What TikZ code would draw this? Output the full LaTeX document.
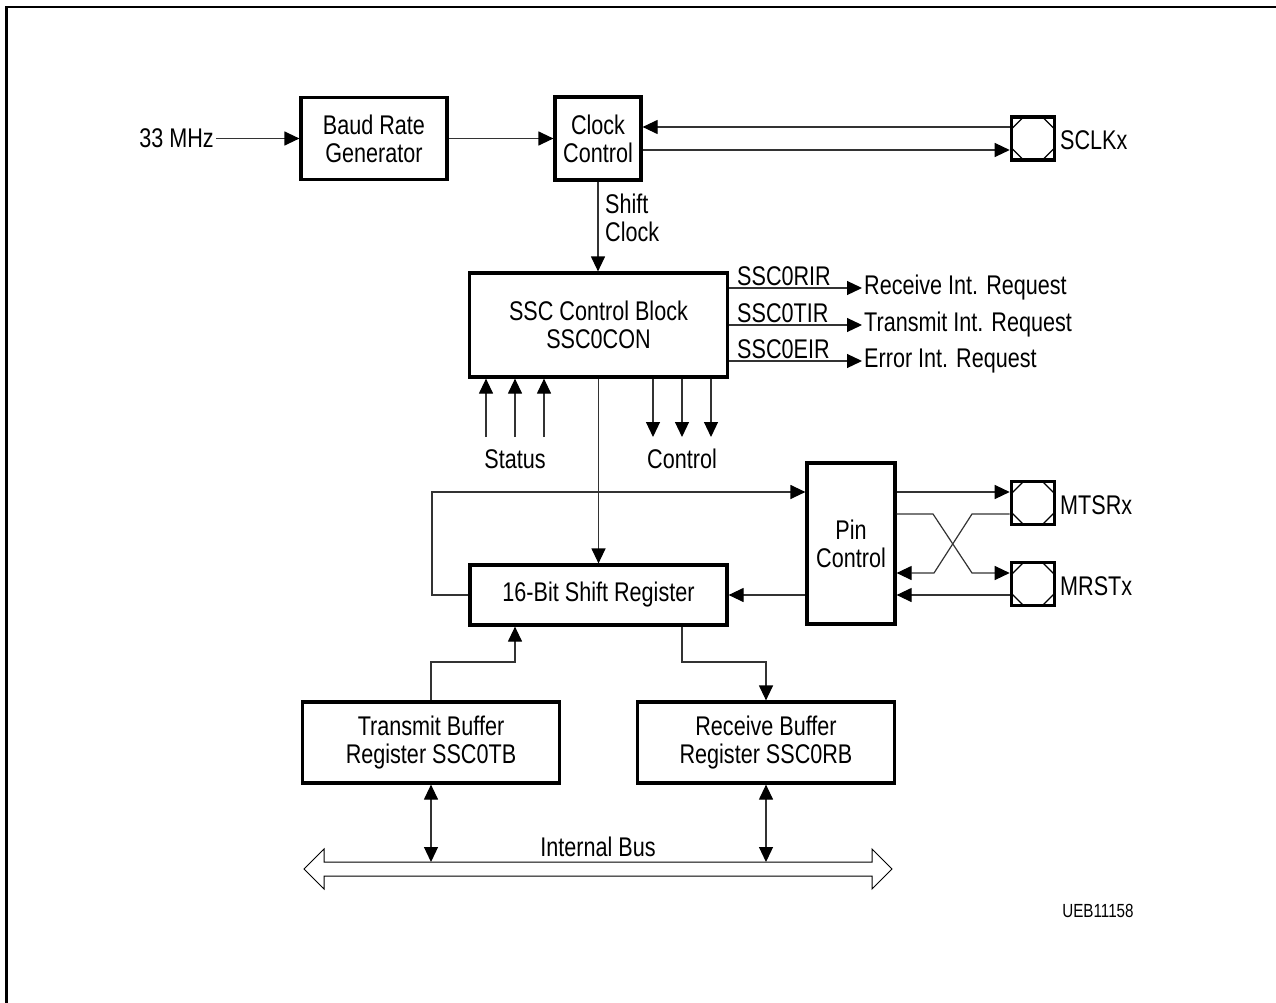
\documentclass[tikz,border=0pt]{standalone}
\usepackage{fontspec}
\setmainfont[FakeStretch=0.8]{Liberation Sans}
\usetikzlibrary{arrows.meta}
\begin{document}
\begin{tikzpicture}[x=1pt,y=-1pt,
  font=\fontsize{27}{28}\selectfont,
  every node/.style={inner sep=2pt},
  box/.style={draw,line width=3.2pt,inner sep=0pt,align=center},
  pin/.style={draw,line width=3.6pt,minimum size=43pt,inner sep=0pt,
    path picture={
      \draw[line width=1.1pt]
        ([xshift=12pt]path picture bounding box.north west) -- ([yshift=-12pt]path picture bounding box.north west)
        ([xshift=-12pt]path picture bounding box.north east) -- ([yshift=-12pt]path picture bounding box.north east)
        ([xshift=12pt]path picture bounding box.south west) -- ([yshift=12pt]path picture bounding box.south west)
        ([xshift=-12pt]path picture bounding box.south east) -- ([yshift=12pt]path picture bounding box.south east);
    }},
  conn/.style={draw=black!80,line width=1.2pt},
  arr/.style={conn,-{Triangle[length=15pt,width=14pt,color=black]}},
  darr/.style={conn,{Triangle[length=15pt,width=14pt,color=black]}-{Triangle[length=15pt,width=14pt,color=black]}},
  lbl/.style={inner sep=1pt}
]
\useasboundingbox (0,0) rectangle (1276,1003);
% frame
\draw[line width=2.6pt] (6.5,1003) -- (6.5,7) -- (1276,7);

% boxes
\node[box,minimum width=146pt,minimum height=82pt] (brg) at (374,138.5) {Baud Rate\\Generator};
\node[box,minimum width=86pt,minimum height=83pt] (clk) at (598,138.5) {Clock\\Control};
\node[box,minimum width=258pt,minimum height=104pt] (ssc) at (598.5,325) {SSC Control Block\\SSC0CON};
\node[box,minimum width=257pt,minimum height=60pt] (shreg) at (598.5,595) {16-Bit Shift Register};
\node[box,minimum width=88pt,minimum height=161pt] (pinc) at (851,543.5) {Pin\\Control};
\node[box,minimum width=257pt,minimum height=81pt] (txb) at (431,742.5) {Transmit Buffer\\Register SSC0TB};
\node[box,minimum width=257pt,minimum height=81pt] (rxb) at (766,742.5) {Receive Buffer\\Register SSC0RB};

% pins
\node[pin] (sclk) at (1033,138.5) {};
\node[pin] (mtsr) at (1033,503) {};
\node[pin] (mrst) at (1033,584) {};
\node[anchor=west] (sclklab) at (1058,140) {SCLKx};
\node[anchor=west] (mtsrlab) at (1058,505) {MTSRx};
\node[anchor=west] (mrstlab) at (1058,586) {MRSTx};

% input clock
\node[anchor=east] (mhz) at (216,138.5) {33 MHz};
\draw[arr] (mhz.east) -- (brg.west);
\draw[arr] (brg.east) -- (clk.west);

% SCLK lines
\coordinate (sc1) at ([yshift=11.5pt]sclk.west);
\coordinate (sc2) at ([yshift=-11.5pt]sclk.west);
\draw[arr] (sc1) -- (sc1 -| clk.east);
\draw[arr] (sc2 -| clk.east) -- (sc2);

% shift clock
\draw[arr] (clk.south) -- (clk.south |- ssc.north);
\node[anchor=west,align=left] (shiftlab) at (603,218) {Shift\\Clock};

% interrupt requests
\coordinate (ir1) at ([yshift=37pt]ssc.east);
\coordinate (ir2) at (ssc.east);
\coordinate (ir3) at ([yshift=-36pt]ssc.east);
\node[anchor=west] (rir) at (862,288) {Receive Int. Request};
\node[anchor=west] (tir) at (862,325) {Transmit Int. Request};
\node[anchor=west] (eir) at (862,361) {Error Int. Request};
\draw[arr] (ir1) -- (ir1 -| rir.west);
\draw[arr] (ir2) -- (ir2 -| tir.west);
\draw[arr] (ir3) -- (ir3 -| eir.west);
\node[lbl,anchor=south west] (l1) at (736,287) {SSC0RIR};
\node[lbl,anchor=south west] (l2) at (736,324) {SSC0TIR};
\node[lbl,anchor=south west] (l3) at (736,360) {SSC0EIR};

% status and control
\coordinate (st1) at (486,437);
\coordinate (st2) at (515,437);
\coordinate (st3) at (544,437);
\draw[arr] (st1) -- (st1 |- ssc.south);
\draw[arr] (st2) -- (st2 |- ssc.south);
\draw[arr] (st3) -- (st3 |- ssc.south);
\node (status) at (515,459) {Status};
\coordinate (ct1) at (653,437);
\coordinate (ct2) at (682,437);
\coordinate (ct3) at (711,437);
\draw[arr] (ct1 |- ssc.south) -- (ct1);
\draw[arr] (ct2 |- ssc.south) -- (ct2);
\draw[arr] (ct3 |- ssc.south) -- (ct3);
\node (control) at (682,459) {Control};

% SSC to shift register
\draw[arr] (ssc.south) -- (shreg.north);

% loop to pin control
\coordinate (lp) at (432,492);
\draw[arr] (shreg.west) -| (lp) -- (lp -| pinc.west);
\draw[arr] (pinc.west |- shreg.east) -- (shreg.east);

% pin control to pins
\coordinate (m1) at ([yshift=11pt]mtsr.west);
\coordinate (m2) at ([yshift=-11pt]mtsr.west);
\coordinate (r1) at ([yshift=11pt]mrst.west);
\coordinate (r2) at ([yshift=-11pt]mrst.west);
\draw[arr] (m1 -| pinc.east) -- (m1);
\draw[arr] (m2 -| pinc.east) -- (m2 -| 933,0) -- (r1 -| 972,0) -- (r1);
\draw[arr] (m2) -- (m2 -| 972,0) -- (r1 -| 934,0) -- (r1 -| pinc.east);
\draw[arr] (r2) -- (r2 -| pinc.east);

% shift register to/from buffers
\coordinate (tj) at (515,662);
\coordinate (rj) at (682,662);
\draw[arr] (txb.north) |- (tj) -- (tj |- shreg.south);
\draw[arr] (rj |- shreg.south) -- (rj) -| (rxb.north);

% internal bus
\draw[line width=1pt,fill=white] (304,869) -- (324,849) -- (324,862) -- (872,862) -- (872,849) -- (892,869)
  -- (872,889) -- (872,876) -- (324,876) -- (324,889) -- cycle;
\coordinate (b1) at (431,862);
\coordinate (b2) at (766,862);
\draw[darr] (txb.south) -- (b1);
\draw[darr] (rxb.south) -- (b2);
\node (ib) at (598,847) {Internal Bus};

\node (ueb) at (1098,911) {\fontsize{19}{19}\selectfont UEB11158};
\end{tikzpicture}
\end{document}
